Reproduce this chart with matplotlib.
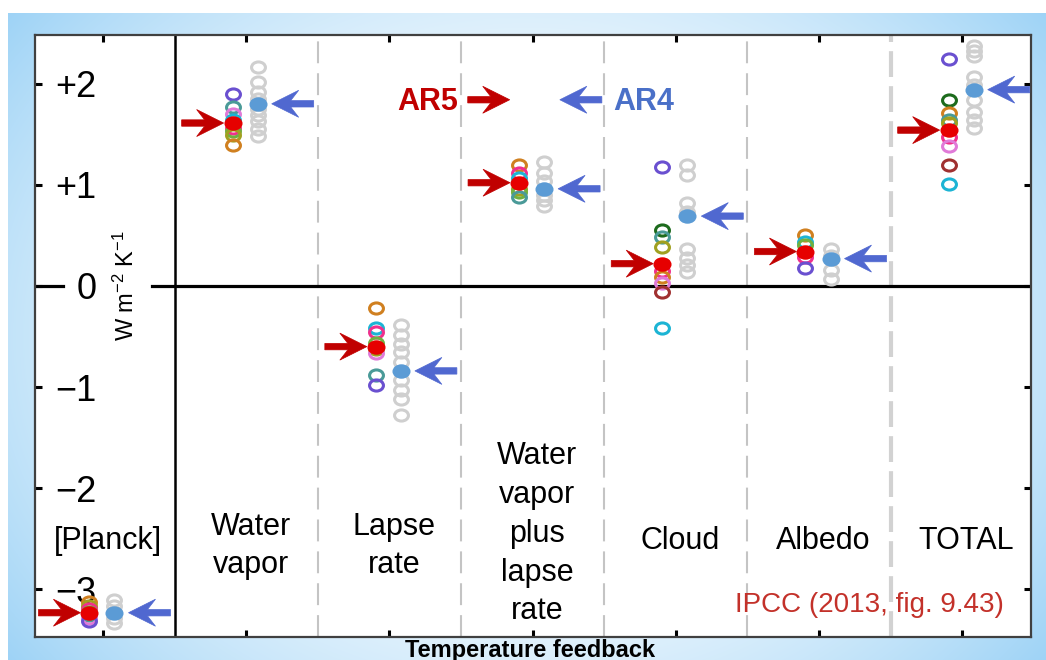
import numpy as np
import matplotlib
matplotlib.use("Agg")
import matplotlib.pyplot as plt
from matplotlib.path import Path
from matplotlib.patches import Polygon
from matplotlib.transforms import Affine2D, ScaledTranslation, blended_transform_factory

plt.rcParams['font.family'] = ['Liberation Sans', 'DejaVu Sans']
plt.rcParams['mathtext.fontset'] = 'custom'
plt.rcParams['mathtext.rm'] = 'Liberation Sans'
plt.rcParams['mathtext.it'] = 'Liberation Sans:italic'
plt.rcParams['mathtext.bf'] = 'Liberation Sans:bold'

# ---------------- data ----------------
categories = ['[Planck]', 'Water\nvapor', 'Lapse\nrate',
              'Water\nvapor\nplus\nlapse\nrate', 'Cloud', 'Albedo', 'TOTAL']

ar5_mean = [-3.23, 1.61, -0.60, 1.02, 0.22, 0.34, 1.54]
ar4_mean = [-3.23, 1.80, -0.84, 0.96, 0.69, 0.27, 1.94]

PURPLE, TEAL, VIOLET, MAGENTA = '#6a50d0', '#4a9a98', '#e07ad8', '#f0308c'
GREEN, OLIVE, ORANGE, DKGREEN = '#70b040', '#a0a020', '#d08020', '#1d6b1d'
CYAN, BROWN = '#1cb4d4', '#a03030'

ar5_planck = [-3.12, -3.16, -3.19, -3.22, -3.25, -3.28, -3.31]
ar5_planck_colors = [ORANGE, OLIVE, MAGENTA, GREEN, TEAL, VIOLET, PURPLE]
ar5_wv = [1.90, 1.77, 1.70, 1.64, 1.56, 1.53, 1.49, 1.39]
ar5_wv_colors = [PURPLE, TEAL, VIOLET, CYAN, MAGENTA, GREEN, OLIVE, ORANGE]
ar5_lr = [-0.22, -0.42, -0.46, -0.56, -0.62, -0.66, -0.88, -0.98]
ar5_lr_colors = [ORANGE, CYAN, MAGENTA, GREEN, OLIVE, VIOLET, TEAL, PURPLE]
ar5_wvlr = [1.20, 1.12, 1.07, 0.96, 0.93, 0.88]
ar5_wvlr_colors = [ORANGE, MAGENTA, CYAN, OLIVE, GREEN, TEAL]
ar5_cloud = [1.18, 0.55, 0.48, 0.38, 0.15, 0.09, 0.03, -0.06, -0.42]
ar5_cloud_colors = [PURPLE, DKGREEN, TEAL, OLIVE, MAGENTA, ORANGE, VIOLET, BROWN, CYAN]
ar5_albedo = [0.50, 0.43, 0.40, 0.29, 0.18]
ar5_albedo_colors = [ORANGE, CYAN, GREEN, MAGENTA, PURPLE]
ar5_total = [2.24, 1.84, 1.71, 1.64, 1.61, 1.47, 1.38, 1.20, 1.01]
ar5_total_colors = [PURPLE, DKGREEN, ORANGE, TEAL, OLIVE, MAGENTA, VIOLET, BROWN, CYAN]

ar4_planck = [-3.10, -3.16, -3.22, -3.28, -3.33]
ar4_wv = [2.16, 2.02, 1.92, 1.85, 1.75, 1.69, 1.63, 1.55, 1.48]
ar4_lr = [-0.39, -0.49, -0.57, -0.65, -0.75, -0.93, -1.03, -1.12, -1.28]
ar4_wvlr = [1.22, 1.12, 1.04, 0.90, 0.85, 0.79]
ar4_cloud = [1.20, 1.10, 0.82, 0.73, 0.36, 0.28, 0.21, 0.14]
ar4_albedo = [0.36, 0.30, 0.16, 0.07]
ar4_total = [2.37, 2.32, 2.27, 2.06, 1.99, 1.84, 1.72, 1.64, 1.56]

ytick_vals = [-3, -2, -1, 0, 1, 2]
ytick_labels = ['\u22123', '\u22122', '\u22121', '0', '+1', '+2']

ar5_models = [ar5_planck, ar5_wv, ar5_lr, ar5_wvlr, ar5_cloud, ar5_albedo, ar5_total]
ar5_colors = [ar5_planck_colors, ar5_wv_colors, ar5_lr_colors, ar5_wvlr_colors,
              ar5_cloud_colors, ar5_albedo_colors, ar5_total_colors]
ar4_models = [ar4_planck, ar4_wv, ar4_lr, ar4_wvlr, ar4_cloud, ar4_albedo, ar4_total]

# ---------------- figure ----------------
DPI = 100
fig = plt.figure(figsize=(10.46, 6.60), dpi=DPI)
fig.patch.set_facecolor('white')

# slide-like background gradient
bg = fig.add_axes([0, 0, 1, 1], zorder=-10)
W, H = 1046, 660
xx, yy = np.meshgrid(np.arange(W), np.arange(H))
u = (xx - 527) / 519.0
v = (yy - 336) / 324.0
t = np.clip((u ** 2 + 0.6 * v ** 2) / 1.6, 0, 1) ** 1.0
edge = np.array([0x9e, 0xd3, 0xf6]) / 255.0
img = (1 - t)[..., None] * np.ones(3) + t[..., None] * edge
mask = (xx < 8) | (yy < 13)
img[mask] = 1.0
bg.imshow(img, extent=[0, 1, 0, 1], aspect='auto', interpolation='bilinear')
bg.set_axis_off()

ax = fig.add_axes([35 / W, 1 - 637 / H, (1031 - 35) / W, (637 - 35) / H])
ax.set_facecolor('white')
ax.set_xlim(0.525, 7.48)
ax.set_ylim(-3.47, 2.48)

for s in ax.spines.values():
    s.set_color('#404040')
    s.set_linewidth(1.6)

x = np.arange(1, len(categories) + 1)
ax.set_xticks(x)
ax.set_xticklabels([])
ax.set_yticks(ytick_vals)
ax.set_yticklabels(ytick_labels, fontsize=26)
ax.tick_params(axis='x', direction='in', length=5, width=2.2, top=True, bottom=True)
ax.tick_params(axis='y', direction='in', length=5, width=2.2, left=True, right=True,
               pad=-44.5)

# separators
ax.axvline(1.5, color='black', lw=1.8, zorder=1)
for xs in [2.5, 3.5, 4.5, 5.5]:
    ax.axvline(xs, color='#c4c4c4', lw=1.5, dashes=(10.5, 4.8), zorder=1)
ax.axvline(6.5, color='#d2d2d2', lw=3.0, dashes=(6.2, 2.2), zorder=1)

# zero line (broken around label)
ax.axhline(0, xmin=0, xmax=0.028, color='black', lw=2.3, zorder=2)
ax.axhline(0, xmin=0.117, xmax=1, color='black', lw=2.3, zorder=2)

# ellipse markers
circ = Path.unit_circle()
ell = Path(circ.vertices * np.array([1.0, 0.8]), circ.codes)

DX5, DX4 = -0.095, 0.08
for i in range(len(categories)):
    g = ar4_models[i]
    ax.plot([x[i] + DX4] * len(g), g, ls='none', marker=ell, ms=10,
            mfc='none', mec='#cfcfcf', mew=2.2, zorder=3)
    for val, col in zip(ar5_models[i], ar5_colors[i]):
        ax.plot([x[i] + DX5], [val], ls='none', marker=ell, ms=10,
                mfc='none', mec=col, mew=2.2, zorder=4)

ax.plot(x + DX5, ar5_mean, ls='none', marker=ell, ms=13, mfc='#e60000',
        mec='none', zorder=6)
ax.plot(x + DX4, ar4_mean, ls='none', marker=ell, ms=13, mfc='#5b9bd5',
        mec='none', zorder=6)

# arrows (shape in pixels, tip at origin, pointing right)
ARROW = np.array([[0, 0], [-27, 13.5], [-19, 3.2], [-42, 3.2], [-42, -3.2],
                  [-19, -3.2], [-27, -13.5]], dtype=float)


def draw_arrow(xd, yd, direction, gap, color):
    verts = ARROW.copy()
    verts[:, 0] = direction * (verts[:, 0] - gap)
    tr = Affine2D() + ScaledTranslation(xd, yd, ax.transData)
    p = Polygon(verts, closed=True, facecolor=color, edgecolor=color, lw=0.5,
                transform=tr, zorder=7, clip_on=False)
    ax.add_artist(p)


RED_A, BLUE_A = '#c00000', '#5068d0'
for i in range(len(categories)):
    draw_arrow(x[i] + DX5, ar5_mean[i], 1, 9, RED_A)
    draw_arrow(x[i] + DX4, ar4_mean[i], -1, 14, BLUE_A)

# legend-like labels
ax.text(3.48, 1.82, 'AR5', color='#c00000', fontsize=22, fontweight='bold',
        ha='right', va='center', zorder=8)
draw_arrow(3.84, 1.84, 1, 0, RED_A)
ax.text(4.56, 1.82, 'AR4', color='#4a70c8', fontsize=22, fontweight='bold',
        ha='left', va='center', zorder=8)
draw_arrow(4.19, 1.84, -1, 0, BLUE_A)

# category labels
for i, lab in enumerate(categories):
    yl = -2.45 if lab.count('\n') > 2 else (-2.57 if '\n' in lab else -2.52)
    xl = x[i] + (0.035 if i == 0 else 0.03)
    ax.text(xl, yl, lab, fontsize=22, ha='center', va='center',
            linespacing=1.38, zorder=8)

ax_y_blend = blended_transform_factory(ax.transAxes, ax.transData)
ax.text(0.0914, 0.0, r'W m$^{-2}$ K$^{-1}$', fontsize=17, rotation=90,
        ha='center', va='center', transform=ax_y_blend, zorder=8)

ax.text(0.973, -3.15, 'IPCC (2013, fig. 9.43)', color='#c3312a', fontsize=20,
        ha='right', va='center', transform=ax_y_blend, zorder=8)

fig.text(530 / W, 0.005, 'Temperature feedback', fontsize=17, fontweight='bold',
         ha='center', va='baseline')

fig.savefig('out.png', dpi=DPI)
